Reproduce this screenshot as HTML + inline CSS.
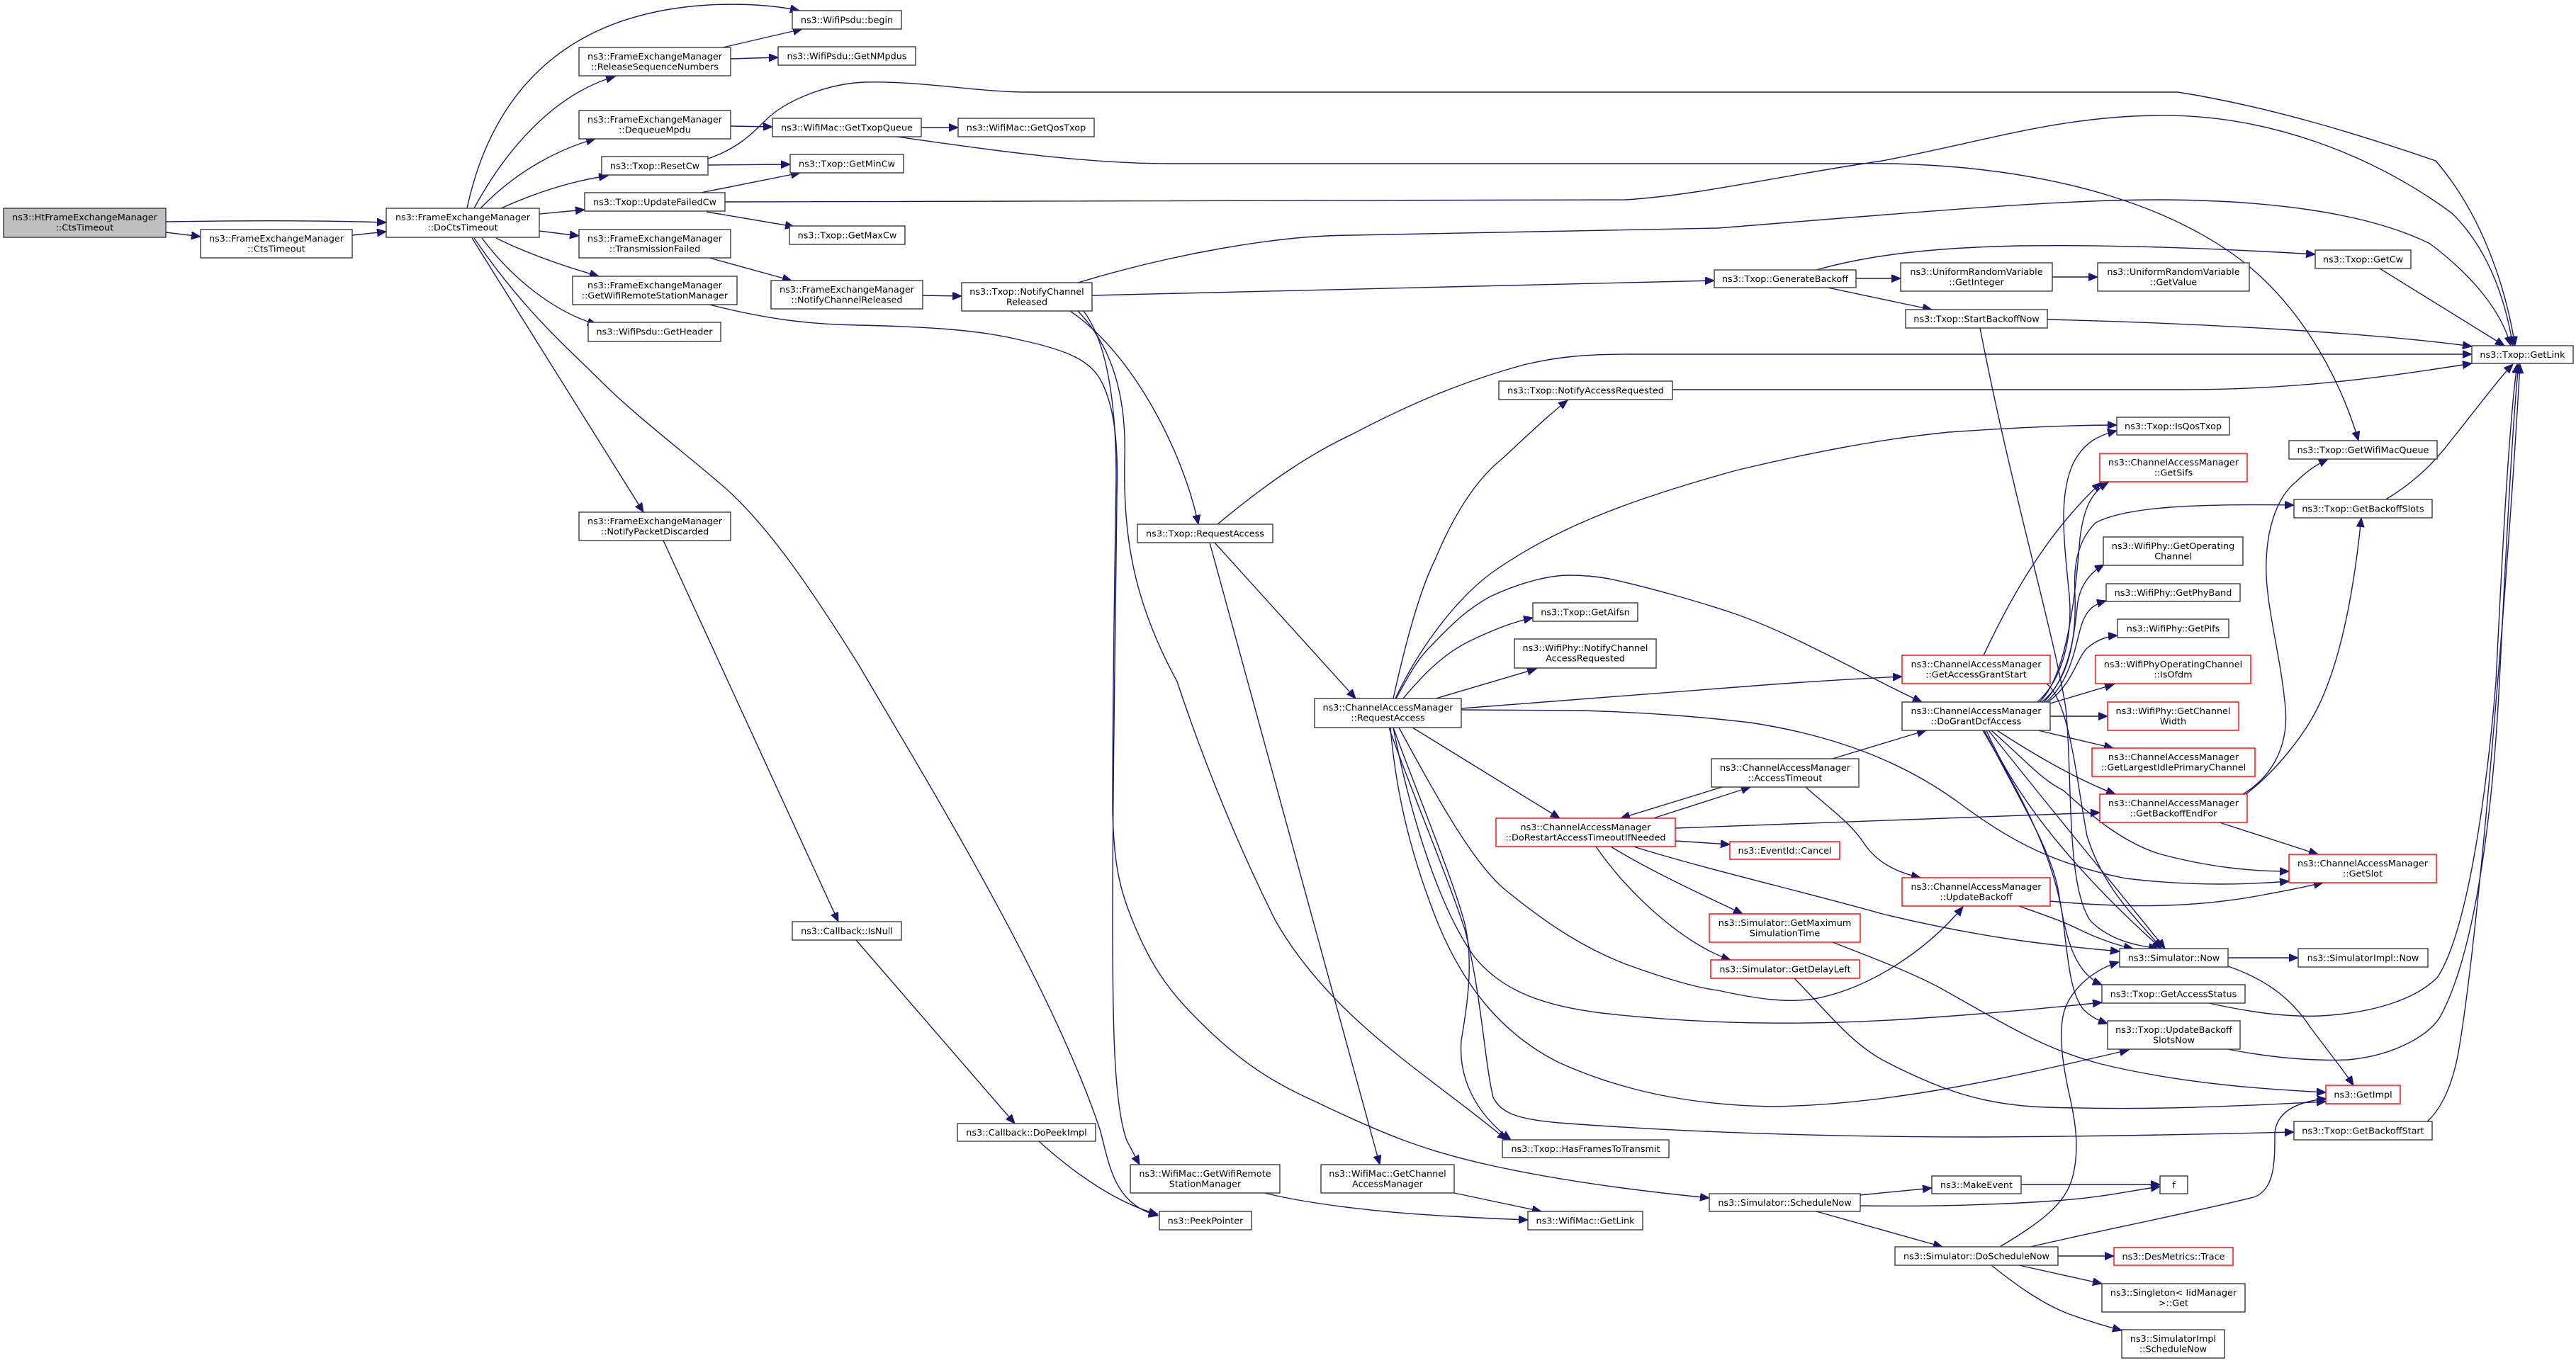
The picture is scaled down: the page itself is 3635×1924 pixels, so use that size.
<!DOCTYPE html>
<html><head><meta charset="utf-8"><style>
html,body{margin:0;padding:0;background:#fff;}
svg{display:block;}
.n{fill:#fff;stroke:#3a3a3a;stroke-width:1.4;}
.r{fill:#fff;stroke:#ff0000;stroke-width:1.4;}
.g{fill:#bfbfbf;stroke:#3a3a3a;stroke-width:1.4;}
text{font-family:"DejaVu Sans","Liberation Sans",sans-serif;font-size:12.8px;fill:#000;text-anchor:middle;}
path.e{fill:none;stroke:#191970;stroke-width:1.4;marker-end:url(#ah);}
</style></head><body>
<svg width="3635" height="1924" viewBox="0 0 3635 1924" xmlns="http://www.w3.org/2000/svg">
<defs><marker id="ah" markerUnits="userSpaceOnUse" markerWidth="14" markerHeight="12" refX="13" refY="5.5" orient="auto"><path d="M0,0 L13,5.5 L0,11 z" fill="#191970" stroke="#191970" stroke-width="1"/></marker></defs>
<rect width="3635" height="1924" fill="#fff"/>
<g>
<path class="e" d="M234,313 C350,311 450,311 545,314"/>
<path class="e" d="M234,328 L283,334"/>
<path class="e" d="M497,332 L545,327"/>
<path class="e" d="M659,294 C690,150 780,20 1000,7 C1060,4 1100,9 1128,15"/>
<path class="e" d="M669,294 C720,200 790,130 868,108"/>
<path class="e" d="M678,294 C730,240 790,210 840,196"/>
<path class="e" d="M707,294 C760,270 810,255 858,248"/>
<path class="e" d="M761,302 L825,296"/>
<path class="e" d="M761,326 L817,333"/>
<path class="e" d="M700,336 C740,356 790,374 845,390"/>
<path class="e" d="M680,336 C720,390 780,440 842,458"/>
<path class="e" d="M666,336 L908,723"/>
<path class="e" d="M669,336 C740,440 800,490 850,540 C900,590 980,650 1028,693 C1090,750 1150,840 1212,939 C1300,1090 1480,1380 1552,1594 C1565,1640 1570,1700 1634,1716"/>
<path class="e" d="M1020,67 L1132,41"/>
<path class="e" d="M1031,83 L1098,81"/>
<path class="e" d="M1031,178 L1090,179"/>
<path class="e" d="M1300,180 L1352,180"/>
<path class="e" d="M1266,193 C1400,212 1530,231 1650,231 L2600,231 C2900,225 3100,300 3200,400 C3270,470 3310,560 3328,622"/>
<path class="e" d="M999,233 L1115,232"/>
<path class="e" d="M999,224 C1040,210 1060,190 1080,170 C1110,140 1170,118 1220,116 C1300,114 1380,130 1450,130 L3073,130 C3200,150 3330,190 3437,227 C3500,300 3535,400 3549,488"/>
<path class="e" d="M989,272 L1129,244"/>
<path class="e" d="M997,299 L1121,320"/>
<path class="e" d="M1023,285 L2294,282 C2400,275 2500,250 2656,227 C2800,200 2900,165 3042,163 C3200,160 3350,220 3460,301 C3510,350 3535,420 3546,488"/>
<path class="e" d="M1001,364 L1117,396"/>
<path class="e" d="M1302,417 L1357,418"/>
<path class="e" d="M1001,430 C1080,450 1140,458 1212,459 C1300,461 1380,465 1440,480 C1510,495 1540,510 1555,540 C1575,580 1578,640 1576,700 C1574,900 1570,1100 1570,1300 C1570,1450 1572,1560 1590,1610 L1608,1644"/>
<path class="e" d="M1541,417 L2419,396"/>
<path class="e" d="M1521,399 C1650,360 1800,332 1908,332 L2424,322 C2700,300 2900,282 3042,282 C3200,282 3340,300 3429,344 C3490,390 3530,440 3543,488"/>
<path class="e" d="M1510,439 C1600,500 1670,640 1691,740"/>
<path class="e" d="M1521,439 C1570,490 1590,560 1587,650 C1585,760 1600,850 1661,962 C1700,1080 1750,1200 1800,1300 C1880,1440 2020,1520 2126,1609"/>
<path class="e" d="M1529,439 C1560,480 1575,560 1575,675 C1573,800 1570,1000 1570,1146 C1572,1220 1580,1250 1591,1281 C1620,1360 1650,1400 1691,1440 C1750,1500 1800,1530 1854,1554 C1950,1600 2010,1625 2108,1646 C2200,1666 2300,1680 2412,1691"/>
<path class="e" d="M1718,740 C1790,680 1850,640 1908,613 C1990,570 2060,540 2150,515 C2200,503 2240,500 2300,500 L3488,500"/>
<path class="e" d="M1714,766 L1913,986"/>
<path class="e" d="M1707,766 L1947,1644"/>
<path class="e" d="M2360,550 L3081,550 C3250,550 3380,530 3488,513"/>
<path class="e" d="M1966,986 C1985,900 2005,830 2025,790 C2050,730 2080,680 2118,649 C2150,620 2180,590 2212,565"/>
<path class="e" d="M1969,986 C2000,920 2050,850 2103,810 C2200,740 2320,700 2450,664 C2550,640 2650,620 2750,610 C2850,603 2920,600 2987,600"/>
<path class="e" d="M1980,986 C2010,950 2040,920 2080,902 C2110,888 2135,878 2163,872"/>
<path class="e" d="M2026,986 L2168,944"/>
<path class="e" d="M2062,1000 L2450,970 C2550,962 2620,958 2684,955"/>
<path class="e" d="M1970,986 C1990,950 2000,930 2022,909 C2050,880 2070,860 2103,842 C2150,820 2190,812 2214,812 C2240,812 2260,815 2271,817 C2330,830 2400,850 2450,867 C2500,885 2540,905 2580,925 C2630,950 2670,972 2712,991"/>
<path class="e" d="M1993,1027 L2201,1155"/>
<path class="e" d="M2062,1002 C2150,1002 2200,1003 2233,1003 C2330,1006 2400,1012 2470,1020 C2600,1040 2690,1080 2760,1130 C2840,1190 2900,1220 3000,1240 C3100,1252 3180,1248 3230,1244"/>
<path class="e" d="M1974,1027 C2030,1130 2080,1220 2124,1256 C2190,1310 2240,1340 2294,1361 C2360,1385 2400,1395 2424,1398 C2480,1410 2520,1416 2560,1410 C2640,1395 2720,1340 2770,1280"/>
<path class="e" d="M1966,1027 C1990,1150 2030,1280 2080,1350 C2120,1400 2180,1420 2260,1430 C2400,1446 2550,1448 2700,1438 C2820,1430 2900,1422 2966,1415"/>
<path class="e" d="M1962,1027 C1970,1120 1990,1200 2020,1280 C2060,1390 2120,1460 2200,1500 C2300,1545 2400,1560 2500,1562 C2650,1560 2800,1530 3004,1482"/>
<path class="e" d="M1960,1027 C1985,1100 2040,1230 2067,1312 C2090,1400 2095,1500 2107,1549 C2120,1575 2150,1580 2200,1585 C2400,1600 2600,1605 2800,1605 C3000,1604 3150,1600 3237,1598"/>
<path class="e" d="M1966,1027 C2000,1120 2050,1240 2067,1304 C2080,1360 2070,1420 2062,1469 C2058,1520 2080,1570 2132,1609"/>
<path class="e" d="M2333,1155 L2470,1111"/>
<path class="e" d="M2430,1111 L2287,1155"/>
<path class="e" d="M2364,1169 L2963,1147"/>
<path class="e" d="M2364,1187 L2441,1192"/>
<path class="e" d="M2305,1195 C2400,1225 2550,1260 2656,1290 C2800,1325 2900,1335 2991,1343"/>
<path class="e" d="M2273,1195 C2330,1230 2400,1262 2459,1290"/>
<path class="e" d="M2252,1195 C2300,1265 2380,1335 2442,1355"/>
<path class="e" d="M2586,1071 L2718,1031"/>
<path class="e" d="M2548,1111 C2580,1140 2610,1160 2630,1190 C2650,1220 2680,1232 2710,1239"/>
<path class="e" d="M2563,381 C2620,365 2700,350 2850,347 C3000,345 3150,352 3267,359"/>
<path class="e" d="M2619,393 L2682,393"/>
<path class="e" d="M2579,406 L2726,437"/>
<path class="e" d="M2896,391 L2960,391"/>
<path class="e" d="M3358,379 L3534,488"/>
<path class="e" d="M2889,451 C3100,456 3350,470 3488,489"/>
<path class="e" d="M2794,463 C2840,700 2900,900 2915,1000 C2925,1100 2915,1250 2950,1300 C2980,1330 3020,1335 3045,1339"/>
<path class="e" d="M2799,925 C2830,860 2880,760 2965,681"/>
<path class="e" d="M2888,965 C2920,990 2930,1100 2945,1180 C2970,1260 3020,1300 3050,1339"/>
<path class="e" d="M2875,991 C2910,960 2925,900 2920,840 C2912,760 2905,700 2925,655 C2940,625 2960,615 2987,608"/>
<path class="e" d="M2878,991 C2920,950 2930,820 2935,760 C2940,720 2950,695 2975,681"/>
<path class="e" d="M2881,991 C2920,960 2930,900 2928,840 C2925,790 2935,760 2957,738 C3000,715 3100,711 3237,713"/>
<path class="e" d="M2884,991 C2925,950 2928,880 2932,850 C2936,825 2950,808 2969,797"/>
<path class="e" d="M2887,991 C2925,960 2930,900 2938,880 C2945,860 2955,853 2972,848"/>
<path class="e" d="M2890,991 C2925,965 2930,930 2945,915 C2960,902 2975,898 2988,897"/>
<path class="e" d="M2893,993 L2983,966"/>
<path class="e" d="M2893,1011 L2974,1011"/>
<path class="e" d="M2876,1031 L2982,1056"/>
<path class="e" d="M2818,1031 C2870,1065 2930,1100 2985,1121"/>
<path class="e" d="M2810,1031 C2860,1075 2880,1100 2912,1116 C2960,1160 3000,1190 3046,1205 C3120,1225 3180,1230 3230,1230"/>
<path class="e" d="M2803,1031 C2850,1140 2950,1250 3050,1339"/>
<path class="e" d="M2806,1031 C2900,1150 3000,1270 3055,1339"/>
<path class="e" d="M2800,1031 C2850,1130 2895,1200 2905,1260 C2915,1330 2930,1375 2966,1390"/>
<path class="e" d="M2798,1031 C2850,1120 2895,1200 2910,1290 C2918,1350 2920,1400 2940,1425 C2950,1435 2960,1440 2974,1445"/>
<path class="e" d="M3165,1121 C3200,1100 3230,1060 3225,1000 C3218,920 3195,850 3198,790 C3200,740 3215,700 3240,680 C3255,665 3270,655 3285,648"/>
<path class="e" d="M3169,1121 C3210,1090 3250,1040 3270,1000 C3300,940 3320,850 3332,731"/>
<path class="e" d="M3132,1161 L3271,1206"/>
<path class="e" d="M3365,706 C3400,685 3430,660 3460,620 C3500,570 3530,530 3546,514"/>
<path class="e" d="M2893,1272 C3000,1282 3100,1282 3200,1262 C3240,1255 3260,1250 3278,1246"/>
<path class="e" d="M2849,1279 C2880,1290 2910,1300 2934,1312 C2960,1325 2990,1335 3010,1339"/>
<path class="e" d="M3144,1352 L3243,1352"/>
<path class="e" d="M3144,1364 C3190,1380 3230,1404 3260,1450 C3290,1490 3310,1515 3321,1532"/>
<path class="e" d="M2586,1330 C2650,1355 2690,1370 2733,1392 C2820,1440 2880,1480 2965,1502 C3080,1530 3200,1538 3282,1542"/>
<path class="e" d="M2532,1381 C2580,1430 2610,1470 2656,1496 C2740,1540 2800,1560 2888,1563 C3050,1568 3180,1560 3282,1555"/>
<path class="e" d="M3112,1415 C3180,1430 3230,1436 3274,1434 C3350,1430 3410,1410 3440,1379 C3490,1300 3515,1050 3522,962 C3530,800 3540,600 3552,514"/>
<path class="e" d="M3143,1481 C3200,1492 3260,1498 3313,1496 C3380,1490 3430,1460 3444,1434 C3500,1330 3520,1100 3527,962 C3535,800 3545,600 3554,514"/>
<path class="e" d="M3425,1583 C3440,1570 3460,1540 3470,1480 C3500,1300 3540,800 3556,514"/>
<path class="e" d="M2624,1687 L2726,1677"/>
<path class="e" d="M2624,1702 C2700,1703 2800,1702 2900,1695 C2970,1690 3010,1680 3048,1675"/>
<path class="e" d="M2852,1672 L3048,1672"/>
<path class="e" d="M2563,1710 L2741,1760"/>
<path class="e" d="M2822,1760 C2880,1725 2915,1700 2925,1660 C2935,1620 2928,1580 2920,1545 C2910,1500 2905,1460 2912,1430 C2920,1400 2950,1370 2990,1358"/>
<path class="e" d="M2865,1760 C2950,1740 3100,1710 3180,1690 C3210,1680 3210,1640 3210,1600 C3212,1570 3240,1555 3283,1551"/>
<path class="e" d="M2904,1773 L2983,1773"/>
<path class="e" d="M2849,1786 L2966,1812"/>
<path class="e" d="M2810,1786 C2840,1810 2880,1840 2920,1855 C2950,1866 2975,1873 2994,1878"/>
<path class="e" d="M1784,1684 C1850,1700 1950,1712 2050,1717 C2100,1720 2130,1721 2156,1722"/>
<path class="e" d="M2052,1684 L2175,1710"/>
<path class="e" d="M936,763 L1183,1301"/>
<path class="e" d="M1208,1327 L1432,1586"/>
<path class="e" d="M1466,1611 C1520,1660 1580,1700 1634,1714"/>
</g>
<g>
<rect class="g" x="5" y="294" width="229" height="41"/><text x="119.5" y="311">ns3::HtFrameExchangeManager</text><text x="119.5" y="325.7">::CtsTimeout</text>
<rect class="n" x="283" y="324" width="214" height="40"/><text x="390" y="341">ns3::FrameExchangeManager</text><text x="390" y="355.7">::CtsTimeout</text>
<rect class="n" x="545" y="294" width="216" height="41"/><text x="653" y="311">ns3::FrameExchangeManager</text><text x="653" y="325.7">::DoCtsTimeout</text>
<rect class="n" x="1118" y="15" width="154" height="26"/><text x="1195" y="32.3">ns3::WifiPsdu::begin</text>
<rect class="n" x="817" y="67" width="214" height="40"/><text x="924" y="84">ns3::FrameExchangeManager</text><text x="924" y="98.7">::ReleaseSequenceNumbers</text>
<rect class="n" x="1098" y="66" width="194" height="26"/><text x="1195" y="83.3">ns3::WifiPsdu::GetNMpdus</text>
<rect class="n" x="817" y="156" width="214" height="40"/><text x="924" y="173">ns3::FrameExchangeManager</text><text x="924" y="187.7">::DequeueMpdu</text>
<rect class="n" x="1090" y="167" width="210" height="26"/><text x="1195" y="184.3">ns3::WifiMac::GetTxopQueue</text>
<rect class="n" x="1352" y="167" width="192" height="26"/><text x="1448" y="184.3">ns3::WifiMac::GetQosTxop</text>
<rect class="n" x="849" y="221" width="150" height="26"/><text x="924" y="238.3">ns3::Txop::ResetCw</text>
<rect class="n" x="1115" y="218" width="160" height="26"/><text x="1195" y="235.3">ns3::Txop::GetMinCw</text>
<rect class="n" x="825" y="272" width="198" height="26"/><text x="924" y="289.3">ns3::Txop::UpdateFailedCw</text>
<rect class="n" x="1114" y="319" width="163" height="26"/><text x="1195.5" y="336.3">ns3::Txop::GetMaxCw</text>
<rect class="n" x="817" y="324" width="214" height="40"/><text x="924" y="341">ns3::FrameExchangeManager</text><text x="924" y="355.7">::TransmissionFailed</text>
<rect class="n" x="1088" y="396" width="214" height="40"/><text x="1195" y="413">ns3::FrameExchangeManager</text><text x="1195" y="427.7">::NotifyChannelReleased</text>
<rect class="n" x="808" y="390" width="232" height="40"/><text x="924" y="407">ns3::FrameExchangeManager</text><text x="924" y="421.7">::GetWifiRemoteStationManager</text>
<rect class="n" x="830" y="455" width="187" height="27"/><text x="923.5" y="472.5">ns3::WifiPsdu::GetHeader</text>
<rect class="n" x="817" y="723" width="214" height="40"/><text x="924" y="740">ns3::FrameExchangeManager</text><text x="924" y="754.7">::NotifyPacketDiscarded</text>
<rect class="n" x="1357" y="399" width="184" height="40"/><text x="1449" y="416">ns3::Txop::NotifyChannel</text><text x="1449" y="430.7">Released</text>
<rect class="n" x="1605" y="740" width="191" height="26"/><text x="1700.5" y="757.3">ns3::Txop::RequestAccess</text>
<rect class="n" x="2115" y="538" width="245" height="26"/><text x="2237.5" y="555.3">ns3::Txop::NotifyAccessRequested</text>
<rect class="n" x="2163" y="851" width="148" height="26"/><text x="2237" y="868.3">ns3::Txop::GetAifsn</text>
<rect class="n" x="2137" y="902" width="200" height="41"/><text x="2237" y="919">ns3::WifiPhy::NotifyChannel</text><text x="2237" y="933.7">AccessRequested</text>
<rect class="n" x="1855" y="986" width="207" height="41"/><text x="1958.5" y="1003">ns3::ChannelAccessManager</text><text x="1958.5" y="1017.7">::RequestAccess</text>
<rect class="r" x="2111" y="1155" width="253" height="40"/><text x="2237.5" y="1172">ns3::ChannelAccessManager</text><text x="2237.5" y="1186.7">::DoRestartAccessTimeoutIfNeeded</text>
<rect class="n" x="1118" y="1301" width="154" height="26"/><text x="1195" y="1318.3">ns3::Callback::IsNull</text>
<rect class="n" x="1351" y="1586" width="195" height="25"/><text x="1448.5" y="1603">ns3::Callback::DoPeekImpl</text>
<rect class="n" x="1595" y="1644" width="211" height="40"/><text x="1700.5" y="1661">ns3::WifiMac::GetWifiRemote</text><text x="1700.5" y="1675.7">StationManager</text>
<rect class="n" x="1864" y="1644" width="188" height="40"/><text x="1958" y="1661">ns3::WifiMac::GetChannel</text><text x="1958" y="1675.7">AccessManager</text>
<rect class="n" x="2120" y="1609" width="235" height="25"/><text x="2237.5" y="1626">ns3::Txop::HasFramesToTransmit</text>
<rect class="n" x="1636" y="1710" width="130" height="26"/><text x="1701" y="1727.3">ns3::PeekPointer</text>
<rect class="n" x="2156" y="1710" width="162" height="26"/><text x="2237" y="1727.3">ns3::WifiMac::GetLink</text>
<rect class="n" x="2419" y="381" width="200" height="25"/><text x="2519" y="398">ns3::Txop::GenerateBackoff</text>
<rect class="n" x="2682" y="371" width="214" height="40"/><text x="2789" y="388">ns3::UniformRandomVariable</text><text x="2789" y="402.7">::GetInteger</text>
<rect class="n" x="2960" y="371" width="214" height="40"/><text x="3067" y="388">ns3::UniformRandomVariable</text><text x="3067" y="402.7">::GetValue</text>
<rect class="n" x="3267" y="353" width="135" height="26"/><text x="3334.5" y="370.3">ns3::Txop::GetCw</text>
<rect class="n" x="2689" y="437" width="200" height="26"/><text x="2789" y="454.3">ns3::Txop::StartBackoffNow</text>
<rect class="n" x="3488" y="488" width="143" height="25"/><text x="3559.5" y="505">ns3::Txop::GetLink</text>
<rect class="n" x="2987" y="589" width="159" height="25"/><text x="3066.5" y="606">ns3::Txop::IsQosTxop</text>
<rect class="n" x="3230" y="622" width="209" height="26"/><text x="3334.5" y="639.3">ns3::Txop::GetWifiMacQueue</text>
<rect class="r" x="2963" y="640" width="208" height="40"/><text x="3067" y="657">ns3::ChannelAccessManager</text><text x="3067" y="671.7">::GetSifs</text>
<rect class="n" x="3237" y="705" width="195" height="26"/><text x="3334.5" y="722.3">ns3::Txop::GetBackoffSlots</text>
<rect class="n" x="2968" y="758" width="197" height="40"/><text x="3066.5" y="775">ns3::WifiPhy::GetOperating</text><text x="3066.5" y="789.7">Channel</text>
<rect class="n" x="2972" y="824" width="189" height="25"/><text x="3066.5" y="841">ns3::WifiPhy::GetPhyBand</text>
<rect class="n" x="2988" y="874" width="157" height="26"/><text x="3066.5" y="891.3">ns3::WifiPhy::GetPifs</text>
<rect class="r" x="2957" y="925" width="219" height="40"/><text x="3066.5" y="942">ns3::WifiPhyOperatingChannel</text><text x="3066.5" y="956.7">::IsOfdm</text>
<rect class="r" x="2684" y="925" width="209" height="40"/><text x="2788.5" y="942">ns3::ChannelAccessManager</text><text x="2788.5" y="956.7">::GetAccessGrantStart</text>
<rect class="n" x="2684" y="991" width="209" height="40"/><text x="2788.5" y="1008">ns3::ChannelAccessManager</text><text x="2788.5" y="1022.7">::DoGrantDcfAccess</text>
<rect class="r" x="2974" y="991" width="185" height="40"/><text x="3066.5" y="1008">ns3::WifiPhy::GetChannel</text><text x="3066.5" y="1022.7">Width</text>
<rect class="r" x="2952" y="1056" width="230" height="40"/><text x="3067" y="1073">ns3::ChannelAccessManager</text><text x="3067" y="1087.7">::GetLargestIdlePrimaryChannel</text>
<rect class="r" x="2963" y="1121" width="208" height="40"/><text x="3067" y="1138">ns3::ChannelAccessManager</text><text x="3067" y="1152.7">::GetBackoffEndFor</text>
<rect class="n" x="2415" y="1071" width="208" height="40"/><text x="2519" y="1088">ns3::ChannelAccessManager</text><text x="2519" y="1102.7">::AccessTimeout</text>
<rect class="r" x="2441" y="1188" width="155" height="25"/><text x="2518.5" y="1205">ns3::EventId::Cancel</text>
<rect class="r" x="2684" y="1239" width="209" height="40"/><text x="2788.5" y="1256">ns3::ChannelAccessManager</text><text x="2788.5" y="1270.7">::UpdateBackoff</text>
<rect class="r" x="3230" y="1206" width="208" height="40"/><text x="3334" y="1223">ns3::ChannelAccessManager</text><text x="3334" y="1237.7">::GetSlot</text>
<rect class="r" x="2412" y="1290" width="213" height="40"/><text x="2518.5" y="1307">ns3::Simulator::GetMaximum</text><text x="2518.5" y="1321.7">SimulationTime</text>
<rect class="r" x="2414" y="1355" width="210" height="26"/><text x="2519" y="1372.3">ns3::Simulator::GetDelayLeft</text>
<rect class="n" x="2991" y="1339" width="153" height="26"/><text x="3067.5" y="1356.3">ns3::Simulator::Now</text>
<rect class="n" x="3243" y="1339" width="183" height="26"/><text x="3334.5" y="1356.3">ns3::SimulatorImpl::Now</text>
<rect class="n" x="2966" y="1390" width="202" height="26"/><text x="3067" y="1407.3">ns3::Txop::GetAccessStatus</text>
<rect class="n" x="2974" y="1441" width="187" height="40"/><text x="3067.5" y="1458">ns3::Txop::UpdateBackoff</text><text x="3067.5" y="1472.7">SlotsNow</text>
<rect class="r" x="3282" y="1532" width="105" height="26"/><text x="3334.5" y="1549.3">ns3::GetImpl</text>
<rect class="n" x="3237" y="1583" width="195" height="26"/><text x="3334.5" y="1600.3">ns3::Txop::GetBackoffStart</text>
<rect class="n" x="2726" y="1660" width="126" height="25"/><text x="2789" y="1677">ns3::MakeEvent</text>
<rect class="n" x="3048" y="1660" width="39" height="25"/><text x="3067.5" y="1677">f</text>
<rect class="n" x="2412" y="1685" width="213" height="25"/><text x="2518.5" y="1702">ns3::Simulator::ScheduleNow</text>
<rect class="n" x="2674" y="1760" width="230" height="26"/><text x="2789" y="1777.3">ns3::Simulator::DoScheduleNow</text>
<rect class="r" x="2983" y="1761" width="168" height="25"/><text x="3067" y="1778">ns3::DesMetrics::Trace</text>
<rect class="n" x="2966" y="1812" width="202" height="40"/><text x="3067" y="1829">ns3::Singleton&lt; IidManager</text><text x="3067" y="1843.7"> &gt;::Get</text>
<rect class="n" x="2994" y="1877" width="145" height="40"/><text x="3066.5" y="1894">ns3::SimulatorImpl</text><text x="3066.5" y="1908.7">::ScheduleNow</text>
</g>
</svg>
</body></html>
